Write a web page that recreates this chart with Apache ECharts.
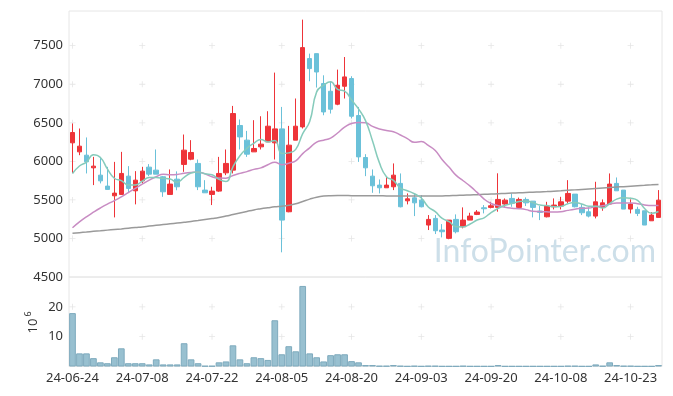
<!DOCTYPE html>
<html>
<head>
<meta charset="utf-8">
<script src="https://cdn.jsdelivr.net/npm/echarts@6/dist/echarts.min.js"></script>
<style>html,body{margin:0;padding:0;background:#fff;}#c{width:673px;height:396px;}</style>
</head>
<body>
<div id="c"></div>
<script>
var dates = ['24-06-24','24-06-25','24-06-26','24-06-27','24-06-28',
'24-07-01','24-07-02','24-07-03','24-07-04','24-07-05',
'24-07-08','24-07-09','24-07-10','24-07-11','24-07-12',
'24-07-15','24-07-16','24-07-17','24-07-18','24-07-19',
'24-07-22','24-07-23','24-07-24','24-07-25','24-07-26',
'24-07-29','24-07-30','24-07-31','24-08-01','24-08-02',
'24-08-05','24-08-06','24-08-07','24-08-08','24-08-09',
'24-08-12','24-08-13','24-08-14','24-08-16','24-08-19',
'24-08-20','24-08-21','24-08-22','24-08-23','24-08-26',
'24-08-27','24-08-28','24-08-29','24-08-30','24-09-02',
'24-09-03','24-09-04','24-09-05','24-09-06','24-09-09',
'24-09-10','24-09-11','24-09-12','24-09-13','24-09-19',
'24-09-20','24-09-23','24-09-24','24-09-25','24-09-26',
'24-09-27','24-09-30','24-10-02','24-10-04','24-10-07',
'24-10-08','24-10-10','24-10-11','24-10-14','24-10-15',
'24-10-16','24-10-17','24-10-18','24-10-21','24-10-22',
'24-10-23','24-10-24','24-10-25','24-10-28','24-10-29'];

var openV = [6240,6123,6080,5916,5821,5679,5553,5571,5808,5618,
5747,5925,5886,5800,5571,5769,5960,6028,5973,5627,
5571,5614,5851,5886,6465,6275,6123,6188,6253,6240,
6421,5346,6275,6447,7333,7397,7009,6909,6741,6974,
7074,6594,6050,5808,5692,5657,5670,5714,5488,5527,
5497,5174,5260,5109,5001,5247,5152,5238,5312,5398,
5403,5403,5446,5519,5403,5506,5484,5355,5281,5411,
5420,5484,5575,5403,5346,5290,5403,5446,5714,5627,
5381,5377,5359,5229,5273];

var closeV = [6374,6197,5994,5938,5747,5636,5588,5843,5649,5756,
5873,5834,5834,5605,5705,5670,6145,6115,5670,5592,
5614,5843,5973,6620,6317,6093,6167,6223,6456,6421,
5238,6210,6456,7475,7203,7159,6641,6676,6987,7095,
6585,6058,5916,5683,5657,5692,5821,5411,5514,5462,
5411,5247,5100,5087,5238,5087,5238,5290,5342,5385,
5424,5506,5497,5455,5506,5462,5403,5338,5420,5433,
5475,5584,5411,5333,5290,5475,5462,5705,5618,5381,
5446,5325,5174,5303,5497];

var lowV = [5847,6080,5843,5692,5714,5636,5273,5565,5592,5442,
5714,5808,5834,5540,5571,5625,5864,6015,5627,5592,
5433,5605,5821,5843,6154,6058,6123,6154,6253,6024,
4820,5340,6275,6426,7039,6957,6598,6620,6728,6815,
6556,5993,5808,5592,5584,5657,5627,5403,5442,5290,
5403,5109,5057,5014,4990,5066,5131,5238,5303,5325,
5390,5347,5411,5411,5390,5420,5273,5238,5273,5377,
5377,5455,5403,5303,5273,5260,5359,5446,5618,5381,
5325,5290,5174,5229,5273];

var highV = [6491,6426,6310,6058,6058,5929,5993,6123,5938,5873,
5929,5964,6154,5810,5895,5870,6348,6275,6024,5756,
5670,6058,6154,6719,6543,6395,6534,6585,6650,7151,
6706,6460,6815,7838,7397,7400,7116,7039,7190,7353,
7104,6706,6093,5895,5765,5808,5973,5843,5584,5584,
5562,5303,5303,5186,5238,5312,5403,5333,5368,5433,
5475,5845,5519,5584,5530,5532,5484,5420,5475,5519,
5540,5756,5575,5446,5403,5735,5506,5843,5791,5627,
5506,5411,5359,5342,5627];

var ma5 = [5843,5940,5990,6085,6050,5902,5781,5750,5693,5694,
5742,5791,5789,5780,5770,5730,5792,5848,5861,5838,
5827,5767,5738,5928,6073,6169,6234,6284,6251,6272,
6101,6110,6156,6360,6516,6901,6987,7031,6933,6912,
6797,6680,6528,6267,5980,5801,5754,5653,5619,5580,
5524,5409,5347,5261,5217,5152,5150,5188,5239,5268,
5336,5389,5431,5453,5478,5485,5465,5433,5426,5411,
5414,5450,5465,5447,5419,5419,5394,5453,5510,5528,
5522,5495,5389,5326,5349];

var ma20 = [5139,5215,5281,5340,5395,5445,5490,5540,5595,5650,
5705,5756,5800,5834,5825,5830,5845,5855,5860,5838,
5800,5783,5782,5816,5844,5867,5896,5915,5955,5989,
5957,5976,6007,6100,6175,6250,6274,6302,6368,6443,
6492,6503,6500,6453,6420,6400,6383,6342,6295,6247,
6256,6207,6140,6020,5922,5818,5748,5679,5597,5511,
5453,5426,5405,5393,5386,5374,5353,5350,5345,5343,
5347,5364,5379,5391,5394,5413,5425,5445,5459,5459,
5460,5451,5435,5427,5427];

var ma60 = [5066,5075,5083,5092,5100,5108,5116,5124,5133,5142,
5150,5160,5170,5180,5190,5200,5210,5220,5232,5245,
5258,5272,5290,5310,5330,5350,5370,5385,5398,5410,
5418,5430,5450,5480,5510,5535,5550,5555,5556,5556,
5555,5555,5554,5553,5553,5552,5552,5551,5551,5550,
5550,5550,5550,5552,5555,5558,5561,5565,5568,5572,
5576,5580,5584,5588,5592,5596,5600,5604,5608,5613,
5618,5624,5630,5636,5642,5648,5654,5660,5666,5672,
5678,5684,5690,5696,5701];

var volume = [17.9,4.4,4.4,2.8,1.4,1.1,3.1,6.1,1.1,1.1,
1.1,0.7,2.4,0.7,0.7,0.7,7.8,2.4,1.1,0.2,
0.2,1.4,1.7,7.1,2.4,1.1,3.1,2.8,2.2,15.5,
4.1,6.8,5.1,27.0,4.4,3.1,1.7,3.8,4.1,4.1,
1.8,1.4,0.5,0.5,0.2,0.2,0.5,0.2,0.1,0.2,
0.1,0.2,0.2,0.1,0.1,0.1,0.2,0.1,0.1,0.1,
0.1,0.5,0.1,0.1,0.1,0.1,0.1,0.1,0.1,0.1,
0.1,0.2,0.2,0.1,0.1,0.7,0.2,1.4,0.5,0.2,
0.2,0.1,0.1,0.1,0.5];

var priceTicks = [5000, 5500, 6000, 6500, 7000, 7500];
var volTickVals = [10, 20];
var labelEvery = 10;

var candles = dates.map(function (d, i) { return [openV[i], closeV[i], lowV[i], highV[i]]; });

// grid "+" markers at label/tick intersections (placed through the axes' scales)
function crossPoints(vals) {
  var pts = [];
  for (var i = 0; i < dates.length; i += labelEvery) {
    for (var j = 0; j < vals.length; j++) pts.push([dates[i], vals[j]]);
  }
  return pts;
}

var chart = echarts.init(document.getElementById('c'), null, { renderer: 'canvas' });
var FONT = 'Noto Sans';
var plusPath = 'path://M2.6,0h0.8v2.6h2.6v0.8h-2.6v2.6h-0.8v-2.6h-2.6v-0.8h2.6z';

var option = {
  animation: false,
  backgroundColor: '#fff',
  grid: [
    { left: 69, width: 593, top: 11, height: 266, show: true, borderColor: '#e6e6e6', borderWidth: 1, backgroundColor: 'transparent' },
    { left: 69, width: 593, top: 277, height: 89.5, show: true, borderColor: '#e6e6e6', borderWidth: 1, backgroundColor: 'transparent' }
  ],
  xAxis: [
    { type: 'category', gridIndex: 0, data: dates, boundaryGap: true,
      axisLine: { show: false }, axisTick: { show: false }, axisLabel: { show: false }, splitLine: { show: false } },
    { type: 'category', gridIndex: 1, data: dates, boundaryGap: true,
      axisLine: { show: false }, axisTick: { show: false },
      axisLabel: { interval: labelEvery - 1, color: '#333', fontFamily: FONT, fontSize: 13, margin: 5 },
      splitLine: { show: false } }
  ],
  yAxis: [
    { type: 'value', gridIndex: 0, min: 4500, max: 7950, interval: 500,
      axisLine: { show: false }, axisTick: { show: false },
      axisLabel: { color: '#333', fontFamily: FONT, fontSize: 13, margin: 6, showMaxLabel: false,
        formatter: function (v) { return String(v); } },
      splitLine: { show: false } },
    { type: 'value', gridIndex: 1, min: 0, max: 30, interval: 10,
      axisLine: { show: false }, axisTick: { show: false },
      axisLabel: { color: '#333', fontFamily: FONT, fontSize: 13, margin: 6, showMaxLabel: false, showMinLabel: false,
        formatter: function (v) { return String(v); } },
      splitLine: { show: false } }
  ],
  series: [
    { name: 'grid-main', type: 'scatter', xAxisIndex: 0, yAxisIndex: 0, data: crossPoints(priceTicks),
      symbol: plusPath, symbolSize: 6, silent: true, z: 0, itemStyle: { color: '#dedede' } },
    { name: 'grid-vol', type: 'scatter', xAxisIndex: 1, yAxisIndex: 1, data: crossPoints(volTickVals),
      symbol: plusPath, symbolSize: 6, silent: true, z: 0, itemStyle: { color: '#dedede' } },
    { name: 'candle', type: 'candlestick', xAxisIndex: 0, yAxisIndex: 0, data: candles, barWidth: 5,
      itemStyle: { color: '#ee3439', color0: '#6bc1d9', borderColor: '#ee3439', borderColor0: '#6bc1d9', borderWidth: 1 } },
    { name: 'MA60', type: 'line', xAxisIndex: 0, yAxisIndex: 0, data: ma60, symbol: 'none', smooth: true,
      lineStyle: { color: '#9a9a9a', width: 1.5 } },
    { name: 'MA20', type: 'line', xAxisIndex: 0, yAxisIndex: 0, data: ma20, symbol: 'none', smooth: true,
      lineStyle: { color: '#c88cc3', width: 1.5 } },
    { name: 'MA5', type: 'line', xAxisIndex: 0, yAxisIndex: 0, data: ma5, symbol: 'none', smooth: true,
      lineStyle: { color: '#86cbbb', width: 1.5 } },
    { name: 'volume', type: 'bar', xAxisIndex: 1, yAxisIndex: 1, data: volume, barCategoryGap: '4%',
      itemStyle: { color: '#98c0d0', borderColor: '#7eaabd', borderWidth: 1 } }
  ],
  graphic: [
    { type: 'text', right: 17, top: 236, z: 0, silent: true,
      style: { text: 'InfoPointer.com', font: '32px Lato', fill: '#cddfe9' } },
    { type: 'text', x: 33, y: 326, rotation: Math.PI / 2, silent: true,
      style: { text: '10', font: '13px "Noto Sans"', fill: '#333', align: 'center', verticalAlign: 'middle' } },
    { type: 'text', x: 28, y: 314, rotation: Math.PI / 2, silent: true,
      style: { text: '6', font: '9px "Noto Sans"', fill: '#333', align: 'center', verticalAlign: 'middle' } }
  ]
};
chart.setOption(option);
</script>
</body>
</html>
